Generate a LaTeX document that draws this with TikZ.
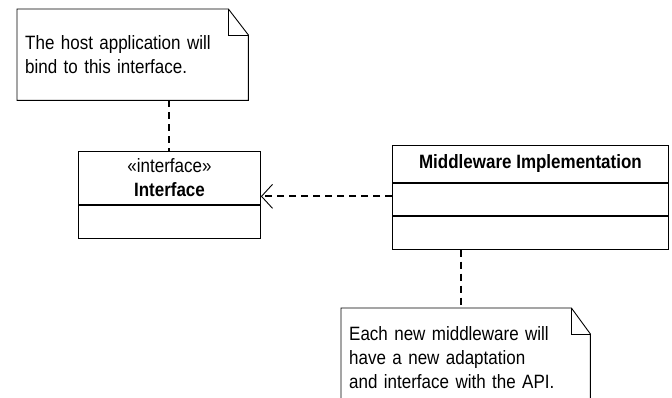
\documentclass[tikz,border=0pt]{standalone}
\usepackage{fontspec}
\setmainfont[FakeStretch=0.88]{Liberation Sans}
\usetikzlibrary{arrows.meta}

\begin{document}
\begin{tikzpicture}[x=1pt, y=-1pt,
    every node/.style={font=\fontsize{19.3}{24}\selectfont, inner sep=0pt},
    umlbox/.style={draw, line width=0.9pt, fill=white, minimum width=#1},
    notebox/.style={align=left, inner xsep=8pt, anchor=north west},
    noteline/.style={line width=0.9pt, line join=miter},
    tie/.style={line width=2pt, dash pattern=on 7pt off 5pt},
    realize/.style={tie, -{Straight Barb[length=11pt, width=24pt, line width=0.9pt]}}]
    \useasboundingbox (0,0) rectangle (672,398);
    \clip (0,0) rectangle (672,398);

    % Note for the host application
    \node[notebox, text width=215pt, minimum height=91pt] (hostnote) at (17,9)
        {The host application will\\bind to this interface.};
    \draw[noteline] (hostnote.south west) -- (hostnote.north west)
        -- ([xshift=-20pt]hostnote.north east) -- ([yshift=-26pt]hostnote.north east)
        -- (hostnote.south east) -- cycle;
    \draw[noteline] ([xshift=-20pt]hostnote.north east) -- ([xshift=-20pt, yshift=-26pt]hostnote.north east)
        -- ([yshift=-26pt]hostnote.north east);

    % Interface class
    \node[umlbox=182pt, minimum height=53pt, align=center, anchor=north west] (iface) at (78,151)
        {«interface»\\\textbf{Interface}};
    \node[umlbox=182pt, minimum height=33pt, anchor=north] (ifaceattr) at (iface.south) {};

    % Middleware implementation class
    \node[umlbox=276pt, minimum height=37pt, anchor=north west] (mw) at (392,145)
        {\textbf{Middleware Implementation}};
    \node[umlbox=276pt, minimum height=32pt, anchor=north] (mwattr) at (mw.south) {};
    \node[umlbox=276pt, minimum height=33pt, anchor=north] (mwops) at (mwattr.south) {};

    % Note for the middleware
    \node[notebox, text width=233pt, minimum height=98pt] (mwnote) at (341,308)
        {Each new middleware will\\have a new adaptation\\and interface with the API.};
    \draw[noteline] (mwnote.south west) -- (mwnote.north west)
        -- ([xshift=-19pt]mwnote.north east) -- ([yshift=-26pt]mwnote.north east)
        -- (mwnote.south east) -- cycle;
    \draw[noteline] ([xshift=-19pt]mwnote.north east) -- ([xshift=-19pt, yshift=-26pt]mwnote.north east)
        -- ([yshift=-26pt]mwnote.north east);

    % Connectors
    \draw[tie] (hostnote.south -| iface.north) -- (iface.north);
    \draw[realize] ([yshift=3pt]mwattr.west) -- ([yshift=3pt]mwattr.west -| iface.east);
    \draw[tie] ([xshift=-5pt]mwnote.north |- mwops.south) -- ([xshift=-5pt]mwnote.north);
\end{tikzpicture}
\end{document}
